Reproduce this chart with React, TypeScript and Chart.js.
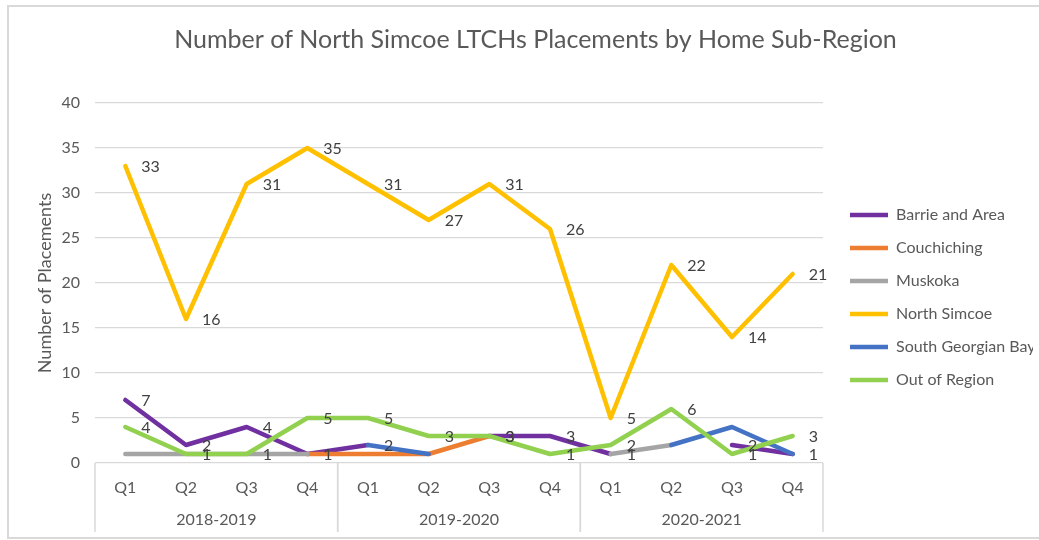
import React, { useEffect, useRef } from 'react';
import { Chart, registerables } from 'chart.js';

Chart.register(...registerables);

// ---------- data ----------
const chartTitle = 'Number of North Simcoe LTCHs Placements by Home Sub-Region';
const yAxisTitle = 'Number of Placements';
const fiscalYears = ['2018-2019', '2019-2020', '2020-2021'];
const quarters = ['Q1', 'Q2', 'Q3', 'Q4'];
const yMin = 0;
const yMax = 40;
const yStep = 5;

const barrieAndArea = [7, 2, 4, 1, 2, null, 3, 3, 1, null, 2, 1];
const couchiching = [null, null, null, 1, 1, 1, 3, null, null, null, null, null];
const muskoka = [1, 1, 1, 1, null, null, null, null, 1, 2, null, null];
const northSimcoe = [33, 16, 31, 35, 31, 27, 31, 26, 5, 22, 14, 21];
const southGeorgianBay = [null, null, null, null, 2, 1, null, null, null, 2, 4, 1];
const outOfRegion = [4, 1, 1, 5, 5, 3, 3, 1, 2, 6, 1, 3];

const seriesNames = ['Barrie and Area', 'Couchiching', 'Muskoka', 'North Simcoe', 'South Georgian Bay', 'Out of Region'];
const seriesValues = [barrieAndArea, couchiching, muskoka, northSimcoe, southGeorgianBay, outOfRegion];
const seriesColors = ['#7030A0', '#ED7D31', '#A5A5A5', '#FFC000', '#4472C4', '#92D050'];
const seriesShowsValues = [true, false, false, true, false, true];

// ---------- styling ----------
const FONT = 'Lato, "Noto Sans", sans-serif';
const TEXT = '#595959';
const LABEL_TEXT = '#404040';
const GRID = '#d9d9d9';
const TITLE_SIZE = 25;

const categories = fiscalYears.flatMap(() => quarters);

const excelLook = {
  id: 'excelLook',
  beforeDraw(chart: any) {
    const ctx = chart.ctx;
    ctx.save();
    ctx.fillStyle = '#ffffff';
    ctx.fillRect(0, 0, chart.width, chart.height);
    ctx.strokeStyle = GRID;
    ctx.lineWidth = 2;
    ctx.strokeRect(8, 6, chart.width + 20, 532);
    ctx.restore();
  },
  afterLayout(chart: any) {
    const t = chart.titleBlock;
    if (t) {
      t.left = 0;
      t.right = 1071;
    }
    const lg = chart.legend;
    if (lg) {
      const pad = lg.options.labels.padding;
      lg.left = 850 - pad;
      lg.right = lg.left + 200;
      lg.width = 200;
      lg.top = 190;
      lg.bottom = lg.top + 320;
      lg.height = 320;
    }
  },
  afterDatasetsDraw(chart: any) {
    const ctx = chart.ctx;
    ctx.save();
    ctx.font = `16px ${FONT}`;
    ctx.fillStyle = LABEL_TEXT;
    ctx.textAlign = 'left';
    ctx.textBaseline = 'middle';
    chart.data.datasets.forEach((ds: any, i: number) => {
      if (!ds.showValues) return;
      const meta = chart.getDatasetMeta(i);
      meta.data.forEach((pt: any, j: number) => {
        const v = ds.data[j];
        if (v === null || v === undefined) return;
        ctx.fillText(String(v), pt.x + 16, pt.y + 1);
      });
    });
    ctx.restore();
  },
  afterDraw(chart: any) {
    const ctx = chart.ctx;
    const area = chart.chartArea;
    const xs = chart.scales.x;
    const n = categories.length;
    const step = (area.right - area.left) / n;
    ctx.save();
    ctx.strokeStyle = GRID;
    ctx.lineWidth = 1.5;
    ctx.font = `16px ${FONT}`;
    ctx.fillStyle = TEXT;
    ctx.textAlign = 'center';
    ctx.textBaseline = 'middle';
    fiscalYears.forEach((year, i) => {
      const first = i * quarters.length;
      const last = first + quarters.length - 1;
      const left = xs.getPixelForValue(first) - step / 2;
      const right = xs.getPixelForValue(last) + step / 2;
      ctx.beginPath();
      ctx.moveTo(left, area.bottom);
      ctx.lineTo(left, 532);
      ctx.moveTo(right, area.bottom);
      ctx.lineTo(right, 532);
      ctx.stroke();
      ctx.fillText(year, (left + right) / 2, 520);
    });
    ctx.restore();
  },
};

export default function App() {
  const ref = useRef<HTMLCanvasElement>(null);

  useEffect(() => {
    let chart: Chart | null = null;
    let cancelled = false;
    const make = () => {
      if (cancelled || !ref.current) return;
      chart = new Chart(ref.current, {
        type: 'line',
        data: {
          labels: categories,
          datasets: seriesNames.map((name, i) => ({
            label: name,
            data: seriesValues[i],
            borderColor: seriesColors[i],
            backgroundColor: seriesColors[i],
            borderWidth: 4.5,
            borderCapStyle: 'round',
            borderJoinStyle: 'round',
            pointRadius: 0,
            pointHoverRadius: 0,
            tension: 0,
            spanGaps: false,
            fill: false,
            order: seriesNames.length - i,
            showValues: seriesShowsValues[i],
          })) as any,
        },
        options: {
          responsive: false,
          animation: false,
          devicePixelRatio: 1,
          layout: { padding: { left: 0, right: 216, top: 0, bottom: 0 } },
          plugins: {
            title: {
              display: true,
              text: chartTitle,
              color: TEXT,
              font: { family: FONT, size: TITLE_SIZE, weight: 'normal' },
              padding: { top: 40 - 0.6 * TITLE_SIZE, bottom: 63 - 0.6 * TITLE_SIZE },
            },
            legend: {
              display: true,
              position: 'chartArea',
              align: 'start',
              labels: {
                usePointStyle: true,
                pointStyle: 'line',
                pointStyleWidth: 38,
                padding: 17,
                color: TEXT,
                font: { family: FONT, size: 16 },
                sort: (a: any, b: any) => a.datasetIndex - b.datasetIndex,
              },
            },
            tooltip: { enabled: false },
          },
          scales: {
            x: {
              type: 'category',
              offset: true,
              grid: { display: false, drawTicks: false },
              border: { display: false },
              ticks: {
                color: TEXT,
                font: { family: FONT, size: 16 },
                padding: 15,
                autoSkip: false,
                maxRotation: 0,
              },
              afterFit: (s: any) => {
                s.height = 77;
              },
            },
            y: {
              min: yMin,
              max: yMax,
              ticks: {
                stepSize: yStep,
                color: TEXT,
                font: { family: FONT, size: 16 },
                padding: 15,
              },
              grid: { color: GRID, lineWidth: 1.3, drawTicks: false },
              border: { display: false },
              title: {
                display: true,
                text: yAxisTitle,
                color: TEXT,
                font: { family: FONT, size: 18 },
                padding: { top: 34, bottom: 0 },
              },
              afterFit: (s: any) => {
                s.width = 95;
              },
            },
          },
        },
        plugins: [excelLook],
      });
    };
    if ((document as any).fonts && (document as any).fonts.load) {
      Promise.all([
        (document as any).fonts.load(`16px Lato`),
        (document as any).fonts.load(`25px Lato`),
      ]).then(make, make);
    } else {
      make();
    }
    return () => {
      cancelled = true;
      if (chart) chart.destroy();
    };
  }, []);

  return (
    <div style={{ position: 'fixed', left: 0, top: 0, width: 1039, height: 540, background: '#fff' }}>
      <canvas ref={ref} width={1039} height={540} style={{ display: 'block' }} />
    </div>
  );
}
